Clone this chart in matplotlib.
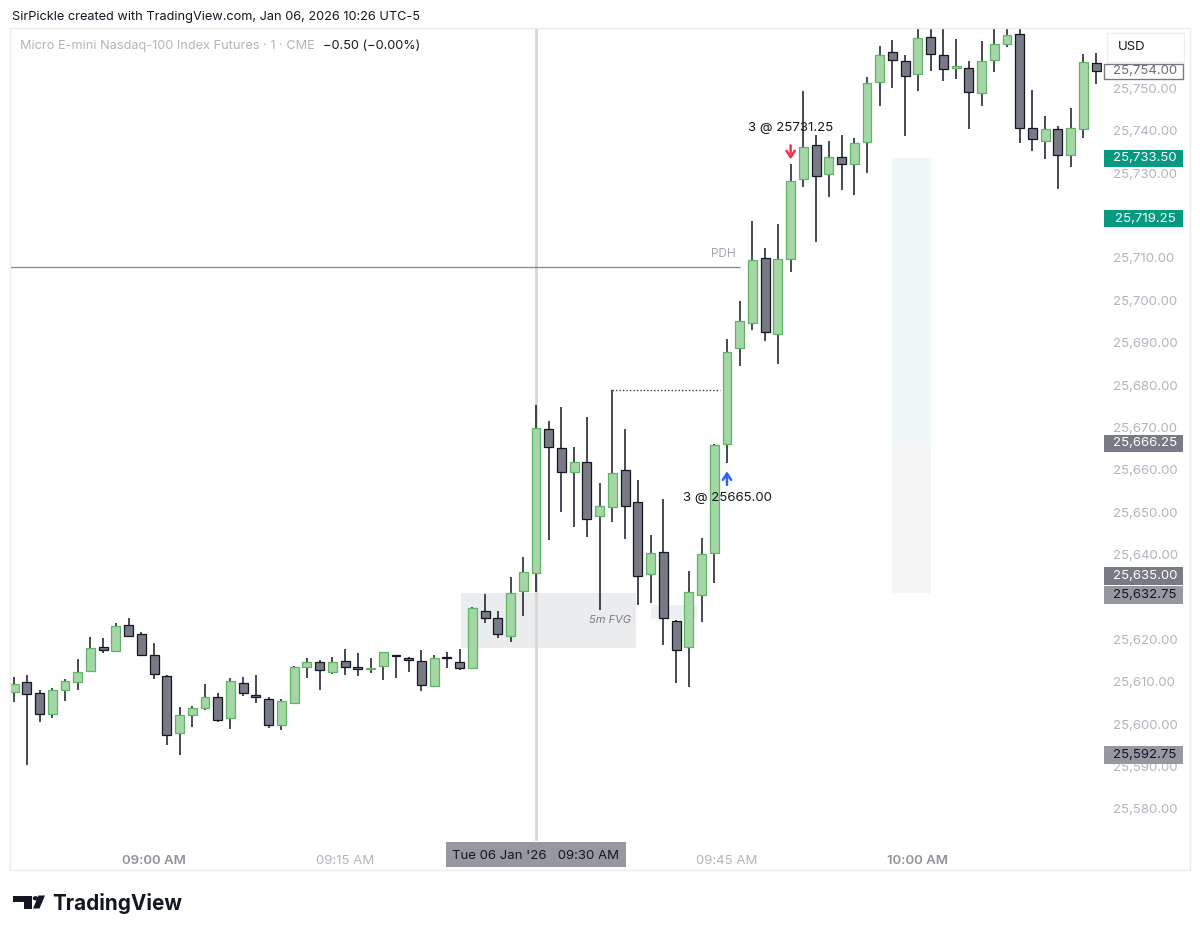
import numpy as np
import pandas as pd
import matplotlib
matplotlib.use("Agg")
import matplotlib.pyplot as plt
from matplotlib.patches import Rectangle, Polygon, Circle
from matplotlib.transforms import blended_transform_factory

plt.rcParams['font.family'] = ['Inter', 'DejaVu Sans']

# ---------------- data (1-minute bars, MNQ, 06 Jan 2026) ----------------
times = pd.date_range("2026-01-06 08:49", periods=86, freq="1min")
opens = [25607.5, 25610.0, 25607.4, 25602.5, 25608.1, 25609.9, 25612.5, 25618.2, 25617.3, 25623.5,
         25621.2, 25616.2, 25611.3, 25597.9, 25602.2, 25603.7, 25606.5, 25601.5, 25609.8, 25606.9,
         25606.0, 25599.7, 25605.1, 25613.5, 25614.6, 25612.3, 25614.9, 25613.6, 25613.0, 25613.7,
         25616.25, 25615.4, 25614.8, 25609.1, 25615.8, 25614.6, 25613.3, 25626.8, 25625.0, 25620.9,
         25631.5, 25635.7, 25669.6, 25665.2, 25659.6, 25661.8, 25649.1, 25651.3, 25660.0, 25652.5,
         25635.4, 25640.7, 25624.4, 25618.3, 25630.5, 25640.3, 25666.0, 25688.7, 25694.6, 25709.9,
         25692.0, 25709.7, 25728.6, 25736.6, 25729.9, 25733.8, 25732.1, 25737.3, 25751.6, 25758.6,
         25756.5, 25753.3, 25762.2, 25757.9, 25754.9, 25754.7, 25749.0, 25756.6, 25760.5, 25762.7,
         25740.6, 25737.6, 25740.3, 25734.3, 25740.4, 25756.0]
highs = [25611.2, 25611.6, 25608.1, 25608.5, 25610.7, 25615.3, 25620.5, 25620.3, 25623.8, 25625.0,
         25621.8, 25619.1, 25611.5, 25604.1, 25604.3, 25609.4, 25607.4, 25610.8, 25611.2, 25611.7,
         25606.5, 25606.0, 25613.8, 25615.7, 25615.1, 25615.9, 25617.7, 25616.7, 25615.7, 25617.0,
         25616.4, 25615.9, 25617.5, 25616.2, 25617.1, 25617.7, 25627.7, 25630.7, 25626.8, 25634.8,
         25639.5, 25675.3, 25671.4, 25674.9, 25665.5, 25672.4, 25657.0, 25678.8, 25669.6, 25657.6,
         25644.6, 25653.1, 25624.6, 25636.1, 25643.8, 25666.0, 25690.8, 25699.9, 25718.8, 25712.3,
         25718.0, 25732.1, 25749.4, 25739.0, 25737.6, 25739.0, 25738.2, 25752.7, 25760.0, 25761.4,
         25757.9, 25765.0, 25765.0, 25765.0, 25761.6, 25756.5, 25761.2, 25765.0, 25765.0, 25765.0,
         25749.6, 25743.5, 25741.1, 25745.3, 25758.1, 25758.3]
lows = [25605.2, 25590.4, 25600.6, 25601.5, 25605.4, 25608.1, 25612.4, 25616.7, 25617.2, 25620.6,
        25616.2, 25610.6, 25595.0, 25592.7, 25599.4, 25603.3, 25600.4, 25598.9, 25606.7, 25605.0,
        25599.2, 25598.6, 25605.0, 25611.0, 25608.1, 25611.9, 25611.6, 25611.4, 25612.0, 25610.4,
        25610.8, 25612.4, 25607.8, 25609.0, 25613.2, 25612.7, 25613.2, 25623.8, 25620.3, 25619.5,
        25625.6, 25631.2, 25643.4, 25650.1, 25646.6, 25644.2, 25626.9, 25647.8, 25643.6, 25628.1,
        25628.5, 25618.7, 25609.6, 25608.7, 25624.2, 25633.2, 25661.7, 25684.6, 25693.1, 25690.5,
        25684.9, 25706.7, 25726.8, 25713.7, 25724.3, 25726.0, 25724.8, 25730.1, 25745.9, 25750.0,
        25738.8, 25749.4, 25754.2, 25751.7, 25752.3, 25740.4, 25745.9, 25753.9, 25759.8, 25737.0,
        25735.3, 25733.3, 25726.2, 25731.5, 25738.2, 25751.0]
closes = [25609.4, 25607.1, 25602.5, 25608.1, 25610.2, 25612.3, 25618.0, 25617.5, 25623.2, 25620.7,
          25616.3, 25611.8, 25597.5, 25602.1, 25603.8, 25606.5, 25601.0, 25610.1, 25607.3, 25606.3,
          25599.9, 25605.4, 25613.4, 25614.6, 25612.7, 25614.6, 25613.5, 25612.9, 25613.2, 25617.0,
          25616.0, 25615.2, 25609.2, 25615.5, 25615.6, 25613.2, 25627.3, 25625.1, 25621.2, 25631.0,
          25636.0, 25669.8, 25665.3, 25659.6, 25661.8, 25648.3, 25651.5, 25659.2, 25651.5, 25635.0,
          25640.4, 25625.1, 25617.4, 25631.1, 25640.1, 25665.9, 25687.7, 25695.1, 25709.5, 25692.5,
          25709.7, 25728.2, 25736.2, 25729.4, 25733.9, 25732.2, 25737.0, 25751.2, 25757.9, 25756.6,
          25752.9, 25761.9, 25758.2, 25754.6, 25755.0, 25749.2, 25756.5, 25760.4, 25762.5, 25740.6,
          25738.0, 25740.3, 25734.3, 25740.6, 25756.3, 25754.0]

y_ticks = [25580, 25590, 25600, 25610, 25620, 25630, 25640, 25650, 25660, 25670,
           25680, 25690, 25700, 25710, 25720, 25730, 25740, 25750]
hidden_tick_labels = [25630]   # fully covered by a price tag in the original
x_tick_times = ["09:00", "09:15", "09:45", "10:00"]
x_tick_labels = ["09:00 AM", "09:15 AM", "09:45 AM", "10:00 AM"]

price_tags = [  # price, text, face, text colour
    (25733.50, "25,733.50", "#089981", "white"),
    (25719.25, "25,719.25", "#089981", "white"),
    (25666.25, "25,666.25", "#787b86", "white"),
    (25635.00, "25,635.00", "#787b86", "white"),
    (25632.75, "25,632.75", "#9598a1", "#131722"),
    (25592.75, "25,592.75", "#9598a1", "#131722"),
]
last_price = 25754.00
pdh = 25707.8
fvg_hi, fvg_lo = 25631.0, 25618.0
fvg2_hi, fvg2_lo = 25628.1, 25624.8
dotted_level = 25678.9
buy_price, sell_price = 25665.00, 25731.25
pos_top, pos_entry, pos_bottom = 25733.5, 25666.25, 25631.0

# ---------------- figure ----------------
W, H = 1200, 936
fig = plt.figure(figsize=(W / 100, H / 100), dpi=100)
fig.patch.set_facecolor("white")


def fx(px):
    return px / W


def fy(py):
    return 1 - py / H


L, R, T, B = 10, 1102, 29, 841
ax = fig.add_axes([fx(L), fy(B), (R - L) / W, (B - T) / H])
ax.set_facecolor("white")

t0 = pd.Timestamp("2026-01-06 09:30")
x = ((times - t0).total_seconds() / 60).to_numpy()


def tmin(hhmm):
    return (pd.Timestamp("2026-01-06 " + hhmm) - t0).total_seconds() / 60


ax.set_xlim(-41.32, 44.46)
ax.set_ylim(25572.44, 25763.99)
PX_PER_PT = (B - T) / (25763.99 - 25572.44)

o = np.array(opens); h = np.array(highs); lo = np.array(lows); c = np.array(closes)
up = c >= o
body_bottom = np.minimum(o, c)
body_h = np.maximum(np.abs(c - o), 0.35)

ax.vlines(x, lo, h, color="#131722", lw=1.1, zorder=3)
ax.bar(x[up], body_h[up], bottom=body_bottom[up], width=0.70, color="#a5d6a7",
       edgecolor="#5fb564", linewidth=0.9, zorder=4)
ax.bar(x[~up], body_h[~up], bottom=body_bottom[~up], width=0.70, color="#787b86",
       edgecolor="#131722", linewidth=0.9, zorder=4)

# crosshair
ax.axvline(0, color="#d6d6d6", lw=2, zorder=1)

# FVG boxes
ax.add_patch(Rectangle((-5.89, fvg_lo), 13.75, fvg_hi - fvg_lo, facecolor="#e9eaec",
                       edgecolor="none", zorder=0.5, alpha=0.9))
ax.add_patch(Rectangle((9.03, fvg2_lo), 3.62, fvg2_hi - fvg2_lo, facecolor="#eeeff0",
                       edgecolor="none", zorder=0.5))
ax.text(7.5, 25624.6, "5m FVG", fontsize=8, style="italic", color="#787b86",
        ha="right", va="center", zorder=6)

# position tool
ax.add_patch(Rectangle((27.97, pos_entry), 3.06, pos_top - pos_entry, facecolor="#eef7f7",
                       edgecolor="none", zorder=0.5))
ax.add_patch(Rectangle((27.97, pos_bottom), 3.06, pos_entry - pos_bottom, facecolor="#f5f5f5",
                       edgecolor="none", zorder=0.5))

# PDH
ax.hlines(pdh, -41.32, 16.0, color="#8a8d96", lw=1, zorder=2)
ax.text(15.7, pdh + 1.6, "PDH", fontsize=8.5, color="#a3a6af", ha="right", va="bottom", zorder=6)

# dotted level
ax.hlines(dotted_level, 5.97, 14.45, color="#3a3d46", lw=1, linestyles=(0, (1, 1.5)), zorder=2)

# trade markers
ax.annotate("", xy=(15, 25660.3), xytext=(15, 25655.8),
            arrowprops=dict(arrowstyle="->,head_length=0.45,head_width=0.3", color="#2962ff", lw=1.8),
            zorder=7)
ax.text(15, 25653.4, f"3 @ {buy_price:.2f}", fontsize=9.5, color="#131722", ha="center",
        va="center", zorder=7)
ax.annotate("", xy=(20, 25732.6), xytext=(20, 25737.2),
            arrowprops=dict(arrowstyle="->,head_length=0.45,head_width=0.3", color="#f23645", lw=1.8),
            zorder=7)
ax.text(20, 25740.6, f"3 @ {sell_price:.2f}", fontsize=9.5, color="#131722", ha="center",
        va="center", zorder=7)

# axes styling
for s in ax.spines.values():
    s.set_visible(False)
ax.yaxis.tick_right()
ax.set_yticks(y_ticks, ["" if v in hidden_tick_labels else f"{v:,.2f}" for v in y_ticks])
ax.tick_params(axis="y", length=0, pad=8, labelcolor="#b2b5be", labelsize=9.5)
ax.set_xticks([tmin(t) for t in x_tick_times], x_tick_labels)
ax.tick_params(axis="x", length=0, pad=10, labelcolor="#b2b5be", labelsize=9.5)
for lab, txt in zip(ax.get_xticklabels(), x_tick_labels):
    if txt.endswith(":00 AM"):
        lab.set_color("#8f929b")
        lab.set_fontweight("semibold")

# price tags on the scale (labels that would collide are pushed apart, as the app does)
btr = blended_transform_factory(fig.transFigure, ax.transData)
tag_h = 17.5 / PX_PER_PT
placed = []
for p, txt, fc, tc in sorted(price_tags, key=lambda r: -r[0]):
    yc = p
    if placed and placed[-1] - yc < tag_h:
        yc = placed[-1] - tag_h - 1.5 / PX_PER_PT
    placed.append(yc)
    ax.add_patch(Rectangle((fx(1104), yc - tag_h / 2), fx(79), tag_h, transform=btr,
                           facecolor=fc, edgecolor="none", clip_on=False, zorder=10))
    ax.text(fx(1145), yc, txt, transform=btr, color=tc, fontsize=9.5, ha="center",
            va="center", clip_on=False, zorder=11)
ax.add_patch(Rectangle((fx(1104), last_price - tag_h / 2 + 0.3), fx(79), tag_h - 0.6, transform=btr,
                       facecolor="white", edgecolor="#787b86", lw=1, clip_on=False, zorder=10))
ax.text(fx(1145), last_price, f"{last_price:,.2f}", transform=btr, color="#6a6d78", fontsize=9.5,
        ha="center", va="center", clip_on=False, zorder=11)

# ---------------- figure-level decorations ----------------
fig.patches.append(Rectangle((fx(10), fy(870)), fx(1180), (870 - 28) / H, transform=fig.transFigure,
                             facecolor="none", edgecolor="#ececec", lw=1, zorder=0))
# USD box
fig.patches.append(Rectangle((fx(1107), fy(62)), fx(77), 29 / H, transform=fig.transFigure,
                             facecolor="white", edgecolor="#eeeeee", lw=1, zorder=5))
fig.text(fx(1118), fy(47), "USD", fontsize=9.5, color="#131722", va="center", ha="left", zorder=6)

# date label box
fig.patches.append(Rectangle((fx(446), fy(867)), fx(180), 25 / H, transform=fig.transFigure,
                             facecolor="#9598a1", edgecolor="none", zorder=5))
fig.text(fx(536), fy(856), "Tue 06 Jan '26   09:30 AM", fontsize=9.5, color="#131722",
         ha="center", va="center", zorder=6)

# header
fig.text(fx(12), fy(17), "SirPickle created with TradingView.com, Jan 06, 2026 10:26 UTC-5",
         fontsize=9.2, color="#131722", ha="left", va="center")
fig.text(fx(20), fy(46), "Micro E-mini Nasdaq-100 Index Futures · 1 · CME",
         fontsize=9.2, color="#b2b5be", ha="left", va="center", zorder=6)
fig.text(fx(323), fy(46), "−0.50 (−0.00%)", fontsize=9.2, color="#131722", ha="left",
         va="center", zorder=6)


# TradingView logo
def pxpoly(pts, **kw):
    return Polygon([(fx(a), fy(b)) for a, b in pts], closed=True, transform=fig.transFigure, **kw)


fig.patches.append(pxpoly([(13, 895.5), (32, 895.5), (32, 908.5), (23.5, 908.5), (23.5, 901.5),
                           (13, 901.5)], facecolor="#131722", edgecolor="none"))
fig.patches.append(Circle((fx(35.5), fy(898.3)), 2.8 / W, transform=fig.transFigure,
                          facecolor="#131722", edgecolor="none"))
fig.patches.append(pxpoly([(38.5, 895.5), (45, 895.5), (39.5, 908.5), (33, 908.5)],
                          facecolor="#131722", edgecolor="none"))
fig.text(fx(52), fy(910), "TradingView", fontsize=14.9, fontweight="bold", color="#131722",
         ha="left", va="baseline")

fig.savefig("out.png", dpi=100, facecolor="white")
